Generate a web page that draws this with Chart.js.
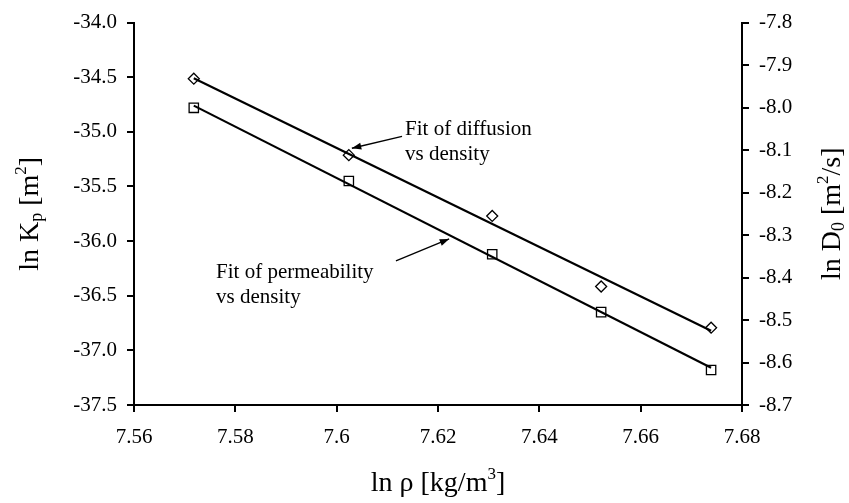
<!DOCTYPE html>
<html>
<head>
<meta charset="utf-8">
<script src="https://cdn.jsdelivr.net/npm/chart.js@4.4.0/dist/chart.umd.min.js"></script>
<style>
  html, body { margin: 0; padding: 0; background: #fff; }
  #wrap { width: 849px; height: 503px; }
</style>
</head>
<body>
<div id="wrap"><canvas id="chart"></canvas></div>
<script>
// measured points
const lnRho = [7.5718, 7.6024, 7.6307, 7.6522, 7.6739]
const lnKp = [-34.78, -35.45, -36.12, -36.65, -37.18]
const lnD0 = [-7.932, -8.112, -8.255, -8.421, -8.518]

// fit lines (end points)
const fitX = [7.5718, 7.6739]
const fitKp = [-34.76, -37.16]
const fitD0 = [-7.931, -8.525]

// tick labels
const xTicks = [7.56, 7.58, 7.60, 7.62, 7.64, 7.66, 7.68]
const kpTicks = [-37.5, -37.0, -36.5, -36.0, -35.5, -35.0, -34.5, -34.0]
const d0Ticks = [-8.7, -8.6, -8.5, -8.4, -8.3, -8.2, -8.1, -8.0, -7.9, -7.8]

const SERIF = "'Liberation Serif', 'Times New Roman', serif"

const pts = (xs, ys) => xs.map((x, i) => ({ x: x, y: ys[i] }))

// text notes with arrows, in data units (x, left axis)
const notes = [
    { lines: ['Fit of diffusion', 'vs density'], x: 7.6135, y: -34.98, from: [7.6129, -35.041], to: [7.6030, -35.150] },
    { lines: ['Fit of permeability', 'vs density'], x: 7.5762, y: -36.29, from: [7.6117, -36.181], to: [7.6222, -35.980] }
]

function drawRich(ctx, segs, x, y, rot) {
    ctx.save()
    ctx.translate(x, y)
    ctx.rotate(rot)
    ctx.fillStyle = '#000'
    ctx.textBaseline = 'middle'
    ctx.textAlign = 'left'
    let w = 0
    segs.forEach(s => { ctx.font = s.size + 'px ' + SERIF; w += ctx.measureText(s.t).width })
    let cx = -w / 2
    segs.forEach(s => {
        ctx.font = s.size + 'px ' + SERIF
        ctx.fillText(s.t, cx, s.dy || 0)
        cx += ctx.measureText(s.t).width
    })
    ctx.restore()
}

const titlePlugin = {
    id: 'titles',
    afterDraw(chart) {
        const ctx = chart.ctx
        const a = chart.chartArea
        const midY = (a.top + a.bottom) / 2
        drawRich(ctx, [
            { t: 'ln \u03c1 [kg/m', size: 28 }, { t: '3', size: 17, dy: -9 }, { t: ']', size: 28 }
        ], (a.left + a.right) / 2, 484, 0)
        drawRich(ctx, [
            { t: 'ln K', size: 28 }, { t: 'p', size: 18, dy: 6 }, { t: ' [m', size: 28 },
            { t: '2', size: 17, dy: -9 }, { t: ']', size: 28 }
        ], 31, midY, -Math.PI / 2)
        drawRich(ctx, [
            { t: 'ln D', size: 28 }, { t: '0', size: 18, dy: 6 }, { t: ' [m', size: 28 },
            { t: '2', size: 17, dy: -9 }, { t: '/s]', size: 28 }
        ], 833, midY, -Math.PI / 2)
    }
}

const notePlugin = {
    id: 'notes',
    afterDatasetsDraw(chart) {
        const ctx = chart.ctx
        const sx = chart.scales.x, sy = chart.scales.y
        ctx.save()
        ctx.fillStyle = '#000'
        ctx.strokeStyle = '#000'
        ctx.font = '21px ' + SERIF
        ctx.textBaseline = 'middle'
        notes.forEach(n => {
            const tx = sx.getPixelForValue(n.x), ty = sy.getPixelForValue(n.y)
            n.lines.forEach((l, i) => ctx.fillText(l, tx, ty + i * 24.5))
            const x1 = sx.getPixelForValue(n.from[0]), y1 = sy.getPixelForValue(n.from[1])
            const x2 = sx.getPixelForValue(n.to[0]), y2 = sy.getPixelForValue(n.to[1])
            ctx.lineWidth = 1.3
            ctx.beginPath()
            ctx.moveTo(x1, y1)
            ctx.lineTo(x2, y2)
            ctx.stroke()
            const ang = Math.atan2(y2 - y1, x2 - x1)
            ctx.beginPath()
            ctx.moveTo(x2, y2)
            ctx.lineTo(x2 - 10 * Math.cos(ang - 0.35), y2 - 10 * Math.sin(ang - 0.35))
            ctx.lineTo(x2 - 10 * Math.cos(ang + 0.35), y2 - 10 * Math.sin(ang + 0.35))
            ctx.closePath()
            ctx.fill()
        })
        ctx.restore()
    }
}

const axisLook = {
    grid: { display: true, drawOnChartArea: false, drawTicks: true, tickLength: 7, color: '#000', lineWidth: 2 },
    border: { display: true, color: '#000', width: 2 }
}

new Chart(document.getElementById('chart'), {
    type: 'scatter',
    data: {
        datasets: [
            {
                label: 'Fit D0', data: pts(fitX, fitD0), yAxisID: 'y2', showLine: true,
                borderColor: '#000', borderWidth: 2.2, pointRadius: 0
            },
            {
                label: 'Fit Kp', data: pts(fitX, fitKp), yAxisID: 'y', showLine: true,
                borderColor: '#000', borderWidth: 2.2, pointRadius: 0
            },
            {
                label: 'ln D0', data: pts(lnRho, lnD0), yAxisID: 'y2', showLine: false,
                pointStyle: 'rectRot', pointRadius: 5.5, pointBorderWidth: 1.3,
                pointBackgroundColor: '#fff', pointBorderColor: '#000'
            },
            {
                label: 'ln Kp', data: pts(lnRho, lnKp), yAxisID: 'y', showLine: false,
                pointStyle: 'rect', pointRadius: 6.6, pointBorderWidth: 1.3,
                pointBackgroundColor: '#fff', pointBorderColor: '#000'
            }
        ]
    },
    options: {
        responsive: true,
        maintainAspectRatio: false,
        animation: false,
        layout: { padding: { top: 15, left: 0, right: 0, bottom: 0 } },
        plugins: {
            legend: { display: false },
            tooltip: { enabled: false }
        },
        scales: {
            x: {
                type: 'linear', min: 7.56, max: 7.68,
                afterBuildTicks: s => { s.ticks = xTicks.map(v => ({ value: v })) },
                afterFit: s => { s.height = 98 },
                ticks: {
                    color: '#000', padding: 13, maxRotation: 0,
                    font: { family: SERIF, size: 21 },
                    callback: v => String(parseFloat(v.toFixed(2)))
                },
                ...axisLook
            },
            y: {
                type: 'linear', position: 'left', min: -37.5, max: -34,
                afterBuildTicks: s => { s.ticks = kpTicks.map(v => ({ value: v })) },
                afterFit: s => { s.width = 134 },
                ticks: {
                    color: '#000', padding: 10,
                    font: { family: SERIF, size: 21 },
                    callback: v => v.toFixed(1)
                },
                ...axisLook
            },
            y2: {
                type: 'linear', position: 'right', min: -8.7, max: -7.8,
                afterBuildTicks: s => { s.ticks = d0Ticks.map(v => ({ value: v })) },
                afterFit: s => { s.width = 107 },
                ticks: {
                    color: '#000', padding: 10,
                    font: { family: SERIF, size: 21 },
                    callback: v => v.toFixed(1)
                },
                ...axisLook
            }
        }
    },
    plugins: [titlePlugin, notePlugin]
})
</script>
</body>
</html>
